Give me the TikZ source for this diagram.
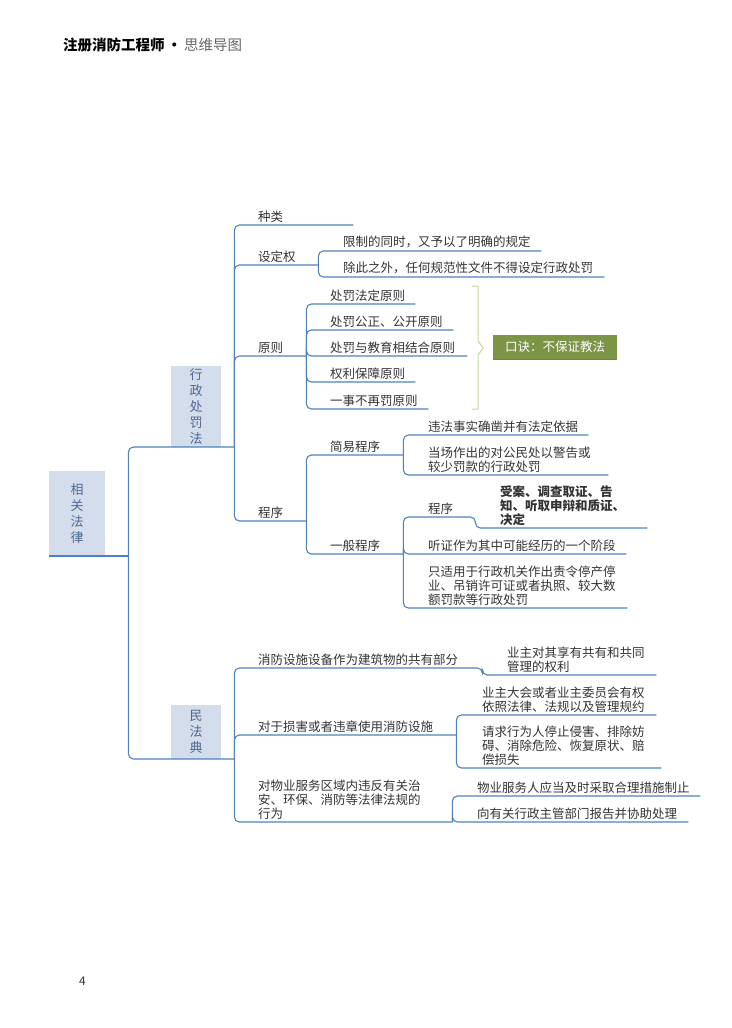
\documentclass[tikz,border=0pt]{standalone}
\usepackage{fontspec}
\setmainfont{Noto Sans CJK SC}
\usetikzlibrary{calc}

\definecolor{linkblue}{RGB}{79,129,189}
\definecolor{boxblue}{RGB}{211,221,235}
\definecolor{boxtext}{RGB}{78,104,146}
\definecolor{textgray}{RGB}{51,51,51}
\definecolor{tipgreen}{RGB}{123,148,69}
\definecolor{bracegreen}{RGB}{196,214,160}

\tikzset{
	link/.style={draw=linkblue,line width=1.1pt,rounded corners=5pt},
	topic/.style={anchor=south west,inner xsep=0pt,inner ysep=2.5pt,align=left,text=textgray,font=\fontsize{12.5}{14}\selectfont},
	lawbox/.style={anchor=south west,fill=boxblue,text=boxtext,align=center,inner sep=0pt,font=\fontsize{13}{16}\selectfont},
	tipbox/.style={fill=tipgreen,text=white,minimum width=124pt,minimum height=24pt,inner sep=0pt,font=\fontsize{12.5}{14}\selectfont}
}

\begin{document}
\begin{tikzpicture}[x=1pt,y=-1pt]
\useasboundingbox (0,0) rectangle (731,1028);
% header and page number
\node[anchor=west,inner sep=0pt,font=\fontsize{14.5}{16}\selectfont] (hdr) at (63,45) {\textbf{注册消防工程师\,·}\,\textcolor{black!60}{思维导图}};
\node[anchor=west,inner sep=0pt,font=\fontsize{12}{14}\selectfont,text=textgray] (pg) at (79,981) {4};

% law boxes
\node[lawbox,minimum width=56pt,minimum height=85pt] (root) at (49,556) {相\\关\\法\\律};
\node[lawbox,minimum width=50pt,minimum height=81pt] (xzcf) at (171,447) {行\\政\\处\\罚\\法};
\node[lawbox,minimum width=50pt,minimum height=54pt] (mfd) at (171,759) {民\\法\\典};

% 行政处罚法
\node[topic,text width=95pt] (zl) at (258,225) {种类};
\node[topic,text width=60pt] (sdq) at (258,265) {设定权};
\node[topic,text width=198pt] (sdq1) at (343,251) {限制的同时，又予以了明确的规定};
\node[topic,text width=261pt] (sdq2) at (343,277) {除此之外，任何规范性文件不得设定行政处罚};
\node[topic,text width=48pt] (yz) at (258,356) {原则};
\node[topic,text width=85pt] (yz1) at (330,304) {处罚法定原则};
\node[topic,text width=123pt] (yz2) at (330,330) {处罚公正、公开原则};
\node[topic,text width=137pt] (yz3) at (330,356) {处罚与教育相结合原则};
\node[topic,text width=85pt] (yz4) at (330,382) {权利保障原则};
\node[topic,text width=98pt] (yz5) at (330,409) {一事不再罚原则};
\node[tipbox] (kj) at (555,347) {口诀：不保证教法};
\node[topic,text width=48pt] (cx) at (258,521) {程序};
\node[topic,text width=73pt] (jy) at (330,455) {简易程序};
\node[topic,text width=160pt] (jy1) at (428,435) {违法事实确凿并有法定依据};
\node[topic,text width=180pt] (jy2) at (428,475) {当场作出的对公民处以警告或\\较少罚款的行政处罚};
\node[topic,text width=73pt] (yb) at (330,554) {一般程序};
\node[topic,text width=47pt] (yb1) at (428,517) {程序};
\node[topic,text width=147pt,font=\fontsize{12.5}{14}\selectfont\bfseries] (yb11) at (500,528) {受案、调查取证、告\\知、听取申辩和质证、\\决定};
\node[topic,text width=198pt] (yb2) at (428,554) {听证作为其中可能经历的一个阶段};
\node[topic,text width=199pt] (yb3) at (428,608) {只适用于行政机关作出责令停产停\\业、吊销许可证或者执照、较大数\\额罚款等行政处罚};

% 民法典
\node[topic,text width=224pt] (mf1) at (258,668) {消防设施设备作为建筑物的共有部分};
\node[topic,text width=149pt] (mf11) at (507,675) {业主对其享有共有和共同\\管理的权利};
\node[topic,text width=198pt] (mf2) at (258,735) {对于损害或者违章使用消防设施};
\node[topic,text width=174pt] (mf21) at (482,715) {业主大会或者业主委员会有权\\依照法律、法规以及管理规约};
\node[topic,text width=179pt] (mf22) at (482,768) {请求行为人停止侵害、排除妨\\碍、消除危险、恢复原状、赔\\偿损失};
\node[topic,text width=194pt] (mf3) at (258,822) {对物业服务区域内违反有关治\\安、环保、消防等法律法规的\\行为};
\node[topic,text width=223pt] (mf31) at (477,796) {物业服务人应当及时采取合理措施制止};
\node[topic,text width=211pt] (mf32) at (477,822) {向有关行政主管部门报告并协助处理};

% connectors
\draw[link] (root.south west) -- (root.south east) -- ++(23,0) coordinate (jr);
\draw[link] (jr) |- (xzcf.south west) -- (xzcf.south east) -- ++(13,0) coordinate (jx);
\draw[link] (jr) |- (mfd.south west) -- (mfd.south east) -- ++(13,0) coordinate (jm);
\foreach \c in {zl,sdq,yz,cx}
	\draw[link] (jx) |- (\c.south west) -- (\c.south east);
\foreach \c in {sdq1,sdq2}
	\draw[link] (sdq.south east) |- (\c.south west) -- (\c.south east);
\foreach \c in {yz1,yz2,yz3,yz4,yz5}
	\draw[link] (yz.south east) |- (\c.south west) -- (\c.south east);
\foreach \c in {jy,yb}
	\draw[link] (cx.south east) |- (\c.south west) -- (\c.south east);
\foreach \c in {jy1,jy2}
	\draw[link] (jy.south east) |- (\c.south west) -- (\c.south east);
\draw[link] (yb.south east) |- (yb1.south west) -- (yb1.south east) |- (yb11.south west) -- (yb11.south east);
\foreach \c in {yb2,yb3}
	\draw[link] (yb.south east) |- (\c.south west) -- (\c.south east);
\draw[link] (jm) |- (mf1.south west) -- (mf1.south east) |- (mf11.south west) -- (mf11.south east);
\draw[link] (jm) |- (mf2.south west) -- (mf2.south east);
\draw[link] (jm) |- (mf3.south west) -- (mf3.south east);
\foreach \c in {mf21,mf22}
	\draw[link] (mf2.south east) |- (\c.south west) -- (\c.south east);
\foreach \c in {mf31,mf32}
	\draw[link] (mf3.south east) |- (\c.south west) -- (\c.south east);

% brace and tip
\draw[bracegreen,line width=1pt] (472,286) -- (478,286) -- (478,341) -- (483,348) -- (478,355) -- (478,409) -- (472,409);
\draw[linkblue,line width=1.2pt] (kj.south west) -- (kj.south east);
\end{tikzpicture}
\end{document}
